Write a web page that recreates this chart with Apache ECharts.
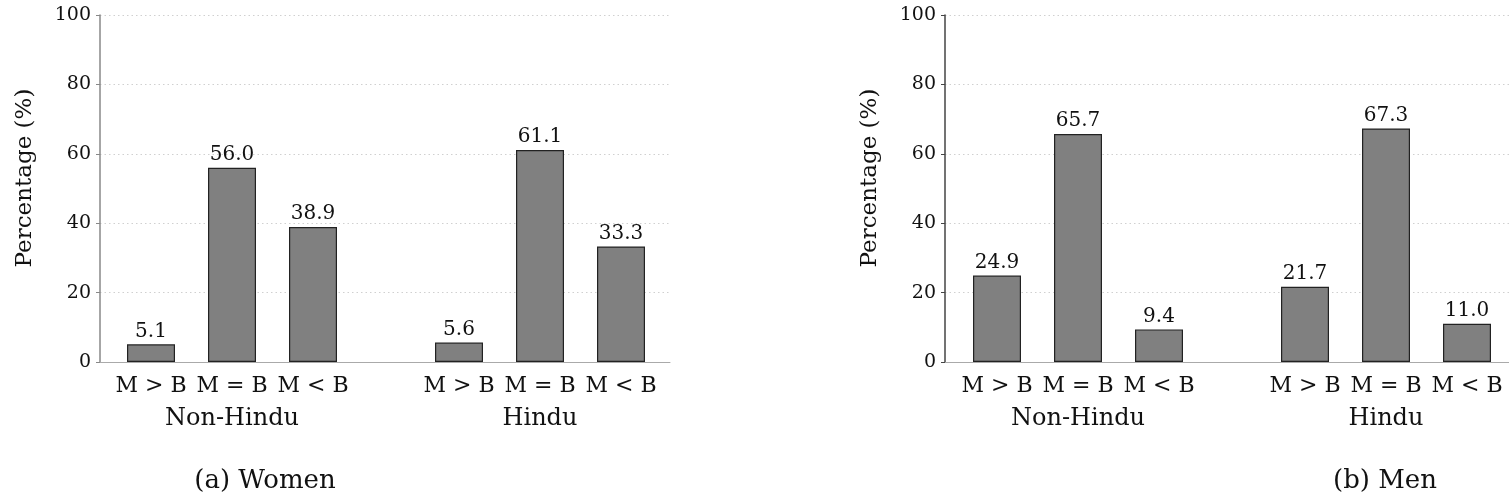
<!DOCTYPE html>
<html>
<head>
<meta charset="utf-8">
<script src="https://cdn.jsdelivr.net/npm/echarts@6/dist/echarts.min.js"></script>
<style>html,body{margin:0;padding:0;background:#fff}#c{width:1509px;height:504px}</style>
</head>
<body>
<div id="c"></div>
<script>
const categories = ['M > B', 'M = B', 'M < B'];
const groups = ['Non-Hindu', 'Hindu'];
const womenNonHindu = [5.1, 56.0, 38.9];
const womenHindu = [5.6, 61.1, 33.3];
const menNonHindu = [24.9, 65.7, 9.4];
const menHindu = [21.7, 67.3, 11.0];
const yTicks = [0, 20, 40, 60, 80, 100];
const yName = 'Percentage (%)';
const captions = ['(a) Women', '(b) Men'];

const FONT = 'DejaVu Serif';
const chart = echarts.init(document.getElementById('c'), null, {renderer: 'canvas'});

const panels = [
  {bg: {left: 100, width: 570}, g: [{left: 110.5, width: 243}, {left: 418.5, width: 243}], data: [womenNonHindu, womenHindu], axisColor: '#888', caption: captions[0], capX: 265, nameX: 25},
  {bg: {left: 945, width: 564}, g: [{left: 956.5, width: 243}, {left: 1264.5, width: 243}], data: [menNonHindu, menHindu], axisColor: '#444', caption: captions[1], capX: 1385, nameX: 870}
];
const TOP = 15, HEIGHT = 347;
const grid = [], xAxis = [], yAxis = [], series = [], graphic = [];
panels.forEach((p) => {
  const bgi = grid.length;
  grid.push({left: p.bg.left, width: p.bg.width, top: TOP, height: HEIGHT});
  xAxis.push({type: 'value', gridIndex: bgi, min: 0, max: 1, axisLine: {show: true, lineStyle: {color: '#aaa', width: 1}}, axisTick: {show: false}, axisLabel: {show: false}, splitLine: {show: false}});
  yAxis.push({type: 'value', gridIndex: bgi, min: yTicks[0], max: yTicks[yTicks.length - 1], interval: yTicks[1] - yTicks[0],
    axisLine: {show: true, lineStyle: {color: p.axisColor, width: 1.5}},
    axisTick: {show: true, length: 4, lineStyle: {color: p.axisColor}},
    axisLabel: {fontFamily: FONT, fontSize: 19, color: '#111', margin: 9},
    splitLine: {show: true, lineStyle: {color: '#d0d0d0', type: [1.5, 3], width: 1}}});
  series.push({type: 'scatter', xAxisIndex: xAxis.length - 1, yAxisIndex: yAxis.length - 1, data: [], silent: true});
  p.g.forEach((g, k) => {
    const gi = grid.length;
    grid.push({left: g.left, width: g.width, top: TOP, height: HEIGHT});
    xAxis.push({type: 'category', gridIndex: gi, data: categories, axisLine: {show: false}, axisTick: {show: false},
      axisLabel: {fontFamily: FONT, fontSize: 22, color: '#111', margin: 13, interval: 0, hideOverlap: false},
      name: groups[k], nameLocation: 'middle', nameGap: 45, nameTextStyle: {fontFamily: FONT, fontSize: 24, color: '#111'}});
    yAxis.push({type: 'value', gridIndex: gi, min: yTicks[0], max: yTicks[yTicks.length - 1], show: false, splitLine: {show: false}});
    series.push({type: 'bar', xAxisIndex: xAxis.length - 1, yAxisIndex: yAxis.length - 1, data: p.data[k], barWidth: 48,
      itemStyle: {color: '#808080', borderColor: '#222', borderWidth: 1.2},
      label: {show: true, position: 'top', distance: 3, fontFamily: FONT, fontSize: 20, color: '#111', formatter: (d) => d.value.toFixed(1)}});
  });
  graphic.push({type: 'text', x: p.capX, y: 468, style: {text: p.caption, font: '26px "' + FONT + '"', fill: '#111', textAlign: 'center'}});
  graphic.push({type: 'text', x: p.nameX, y: 178, rotation: Math.PI / 2, style: {text: yName, font: '23px "' + FONT + '"', fill: '#111', textAlign: 'center', textVerticalAlign: 'middle'}});
});

chart.setOption({animation: false, backgroundColor: '#fff', grid, xAxis, yAxis, series, graphic});
</script>
</body>
</html>
